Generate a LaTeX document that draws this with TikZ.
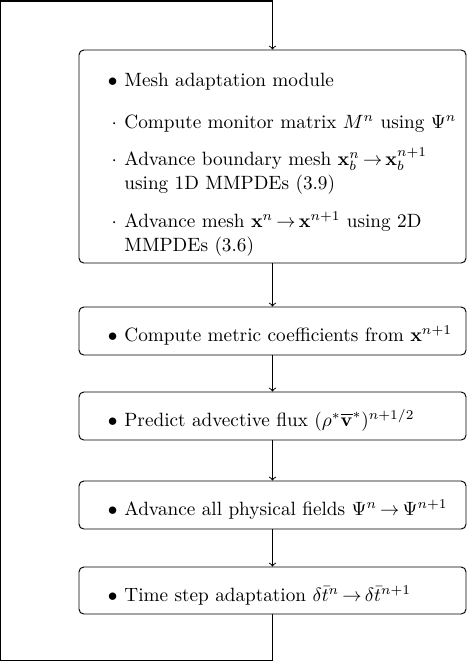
\documentclass[tikz,border=0pt]{standalone}
\usepackage{amsmath}
\begin{document}
\thickmuskip=3mu\relax
\begin{tikzpicture}[x=0.52pt,y=-0.52pt,>=to,
  box/.style={draw, rounded corners=2.5pt, minimum width=201.24pt, inner sep=0pt, line width=0.5pt},
  txt/.style={anchor=base west, inner sep=0pt, font=\normalsize},
  link/.style={->, line width=0.5pt},
  loop/.style={line width=0.8pt}]
\useasboundingbox (0,0) rectangle (468,662);
% boxes
\node[box, minimum height=110.76pt] (b1) at (272.5,156.5) {};
\node[box, minimum height=24.96pt] (b2) at (272.5,331) {};
\node[box, minimum height=24.96pt] (b3) at (272.5,416) {};
\node[box, minimum height=24.96pt] (b4) at (272.5,505) {};
\node[box, minimum height=24.44pt] (b5) at (272.5,590.5) {};
% texts of box 1
\node[txt] (t1) at (124,86) {\llap{$\bullet$\hspace{3.6pt}}Mesh adaptation module};
\node[txt] (t2) at (124,128) {\llap{$\cdot$\hspace{3.8pt}}Compute monitor matrix $M^n$ using $\Psi^n$};
\node[txt] (t3) at (124,165) {\llap{$\cdot$\hspace{3.8pt}}Advance boundary mesh $\mathbf{x}_b^n\rightarrow\mathbf{x}_b^{n+1}$};
\node[txt] (t3b) at (124,189) {using 1D MMPDEs (3.9)};
\node[txt] (t4) at (124,227) {\llap{$\cdot$\hspace{3.8pt}}Advance mesh $\mathbf{x}^n\rightarrow\mathbf{x}^{n+1}$ using 2D};
\node[txt] (t4b) at (124,251) {MMPDEs (3.6)};
% texts of other boxes
\node[txt] (t5) at (124,341) {\llap{$\bullet$\hspace{3.6pt}}Compute metric coefficients from $\mathbf{x}^{n+1}$};
\node[txt] (t6) at (124,426) {\llap{$\bullet$\hspace{3.6pt}}Predict advective flux $(\rho^*\overline{\mathbf{v}}^*)^{n+1/2}$};
\node[txt] (t7) at (124,515) {\llap{$\bullet$\hspace{3.6pt}}Advance all physical fields $\Psi^n\rightarrow\Psi^{n+1}$};
\node[txt] (t8) at (124,601) {\llap{$\bullet$\hspace{3.6pt}}Time step adaptation $\delta\bar{t}^n\rightarrow\delta\bar{t}^{n+1}$};
% connectors
\draw[link] (b1) -- (b2);
\draw[link] (b2) -- (b3);
\draw[link] (b3) -- (b4);
\draw[link] (b4) -- (b5);
\coordinate (c1) at (272.5,660.6);
\coordinate (c2) at (0,660.6);
\coordinate (c3) at (0,0.9);
\coordinate (c4) at (272.5,0.9);
\draw[loop] (b5.south) -- (c1) -- (c2) -- (c3) -- (c4);
\draw[link] (c4) -- (b1.north);
\end{tikzpicture}
\end{document}
